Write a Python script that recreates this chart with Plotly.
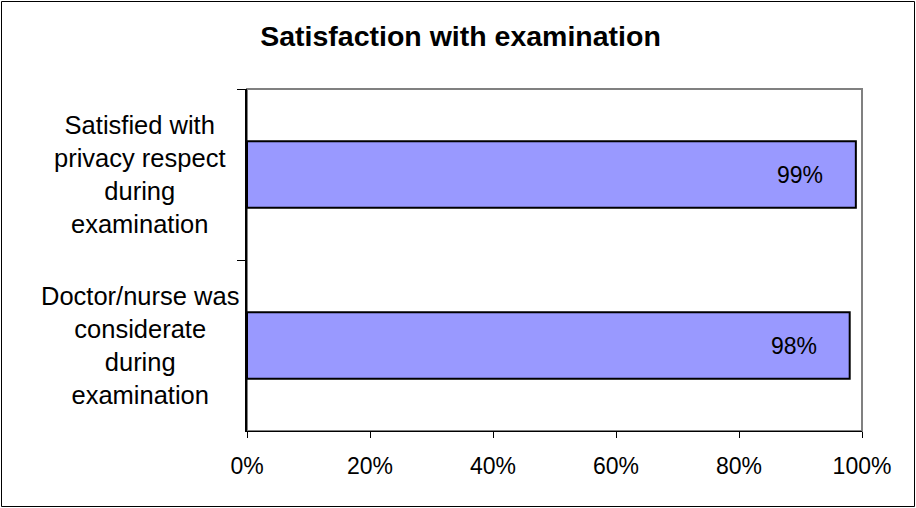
import plotly.graph_objects as go

categories = [
    "Satisfied with<br>privacy respect<br>during<br>examination",
    "Doctor/nurse was<br>considerate<br>during<br>examination",
]
values = [0.99, 0.98]
value_labels = ["99%", "98%"]
x_tickvals = [0, 0.2, 0.4, 0.6, 0.8, 1.0]
x_ticktext = ["0%", "20%", "40%", "60%", "80%", "100%"]
title_text = "Satisfaction with examination"

FONT = "Liberation Sans, Arial, sans-serif"

fig = go.Figure()
fig.add_trace(go.Bar(
    x=values,
    y=categories,
    orientation="h",
    marker=dict(color="#9999FF", line=dict(color="black", width=2)),
    hoverinfo="skip",
))

annotations = []
for c, v, t in zip(categories, values, value_labels):
    annotations.append(dict(
        x=v, y=c, xref="x", yref="y", text=t, showarrow=False,
        xanchor="right", yanchor="middle", xshift=-31,
        font=dict(family=FONT, size=23, color="black"),
    ))
    annotations.append(dict(
        x=-0.174, y=c, xref="paper", yref="y", text=c, showarrow=False,
        xanchor="center", yanchor="middle", align="center",
        font=dict(family=FONT, size=25.5, color="black"),
    ))

fig.update_layout(
    width=916, height=508,
    margin=dict(l=247, r=54, t=89, b=77),
    paper_bgcolor="white", plot_bgcolor="white",
    showlegend=False,
    bargap=0.61,
    title=dict(
        text="<b>" + title_text + "</b>",
        x=460.5 / 916, xref="container", xanchor="center",
        y=1 - 36 / 508, yref="container", yanchor="middle",
        font=dict(family=FONT, size=28.5, color="black"),
    ),
    xaxis=dict(
        range=[0, 1.0], tickvals=x_tickvals, ticktext=x_ticktext,
        showgrid=False, zeroline=False,
        showline=True, linecolor="black", linewidth=1,
        ticks="outside", ticklen=6, tickcolor="black", tickwidth=1,
        ticklabelstandoff=8,
        tickfont=dict(family=FONT, size=23, color="black"),
        fixedrange=True,
    ),
    yaxis=dict(
        type="category", autorange="reversed",
        tickson="boundaries",
        showticklabels=False,
        showgrid=False, zeroline=False,
        showline=True, linecolor="black", linewidth=2,
        ticks="outside", ticklen=8, tickcolor="black", tickwidth=1,
        fixedrange=True,
    ),
    annotations=annotations,
    shapes=[
        dict(type="rect", xref="paper", yref="paper", x0=0, x1=1, y0=0, y1=1,
             line=dict(color="#808080", width=2), layer="below"),
        dict(type="rect", xref="paper", yref="paper",
             x0=(1.5 - 247) / 615, x1=(914.5 - 247) / 615,
             y0=(431 - 506.5) / 342, y1=(431 - 1.5) / 342,
             line=dict(color="black", width=1), layer="below"),
    ],
)

fig.write_html(
    "out.html",
    config={"displayModeBar": False, "staticPlot": True},
    post_script="document.body.style.margin='0';document.body.style.overflow='hidden';",
)
